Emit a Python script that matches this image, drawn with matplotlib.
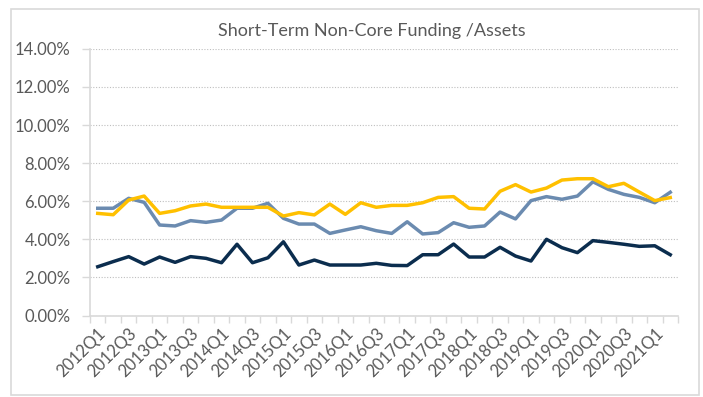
import matplotlib
matplotlib.use("Agg")
import matplotlib.pyplot as plt
from matplotlib.patches import Rectangle
from matplotlib.ticker import FuncFormatter, FixedLocator

plt.rcParams["font.family"] = ["Lato", "DejaVu Sans"]

# Quarterly labels 2012Q1 .. 2021Q2
quarters = [f"{y}Q{q}" for y in range(2012, 2022) for q in range(1, 5)][:38]

# Short-term non-core funding / assets, in percent
series_navy = [2.56, 2.83, 3.09, 2.70, 3.07, 2.79, 3.09, 3.00, 2.77, 3.74,
               2.77, 3.03, 3.87, 2.65, 2.91, 2.65, 2.65, 2.65, 2.74, 2.63,
               2.62, 3.19, 3.19, 3.75, 3.07, 3.07, 3.58, 3.12, 2.86, 4.00,
               3.56, 3.30, 3.93, 3.84, 3.74, 3.63, 3.66, 3.19]
series_steel = [5.63, 5.63, 6.15, 5.94, 4.75, 4.70, 4.98, 4.89, 5.01, 5.63,
                5.63, 5.89, 5.10, 4.80, 4.80, 4.31, 4.49, 4.66, 4.45, 4.31,
                4.92, 4.28, 4.35, 4.87, 4.63, 4.70, 5.43, 5.07, 6.03, 6.24,
                6.10, 6.27, 7.02, 6.62, 6.36, 6.20, 5.92, 6.47]
series_gold = [5.36, 5.29, 6.06, 6.27, 5.36, 5.50, 5.75, 5.85, 5.68, 5.68,
               5.68, 5.68, 5.22, 5.40, 5.28, 5.85, 5.31, 5.92, 5.68, 5.78,
               5.78, 5.92, 6.20, 6.24, 5.63, 5.59, 6.52, 6.87, 6.48, 6.69,
               7.11, 7.18, 7.18, 6.76, 6.94, 6.48, 6.03, 6.19]

grey_text = "#595959"
axis_grey = "#d9d9d9"

fig = plt.figure(figsize=(7.03, 3.97), dpi=100)
ax = fig.add_axes([90 / 703, 1 - 315.5 / 397, 588 / 703, 266.7 / 397])

# chart area border
fig.patches.append(Rectangle((11 / 703, 2 / 397), 688 / 703, 386 / 397,
                             transform=fig.transFigure, fill=False,
                             edgecolor=axis_grey, linewidth=1.2))

x = list(range(len(quarters)))
ax.plot(x, series_navy, color="#0b2d4e", linewidth=2.5, solid_joinstyle="round", zorder=3)
ax.plot(x, series_steel, color="#6b8bb0", linewidth=2.5, solid_joinstyle="round", zorder=3)
ax.plot(x, series_gold, color="#ffc000", linewidth=2.5, solid_joinstyle="round", zorder=4)

ax.set_xlim(-0.5, len(quarters) - 0.5)
ax.set_ylim(0, 14)

ax.set_yticks(range(0, 15, 2))
ax.yaxis.set_major_formatter(FuncFormatter(lambda v, _: f"{v:.2f}%"))
ax.grid(axis="y", color="#bfbfbf", linestyle=(0, (1, 1.5)), linewidth=0.8)

# labels on every other quarter, tick marks between categories
ax.set_xticks(x[::2])
ax.set_xticklabels(quarters[::2], rotation=45, ha="right", va="top",
                   rotation_mode="anchor")
ax.xaxis.set_minor_locator(FixedLocator([i - 0.5 for i in range(len(quarters) + 1)]))
ax.tick_params(axis="x", which="major", length=0, pad=7, labelsize=12, labelcolor=grey_text)
ax.tick_params(axis="x", which="minor", length=5, color=axis_grey, width=1)
ax.tick_params(axis="y", length=6, color=axis_grey, width=1, pad=8,
               labelsize=12, labelcolor=grey_text)

for side in ["top", "right"]:
    ax.spines[side].set_visible(False)
ax.spines["left"].set_color(axis_grey)
ax.spines["bottom"].set_color(axis_grey)
ax.spines["left"].set_linewidth(1.2)
ax.spines["bottom"].set_linewidth(1.2)

fig.text(372 / 703, 1 - 31 / 397, "Short-Term Non-Core Funding /Assets",
         ha="center", va="center", fontsize=13, color=grey_text)

fig.savefig("out.png", dpi=100)
